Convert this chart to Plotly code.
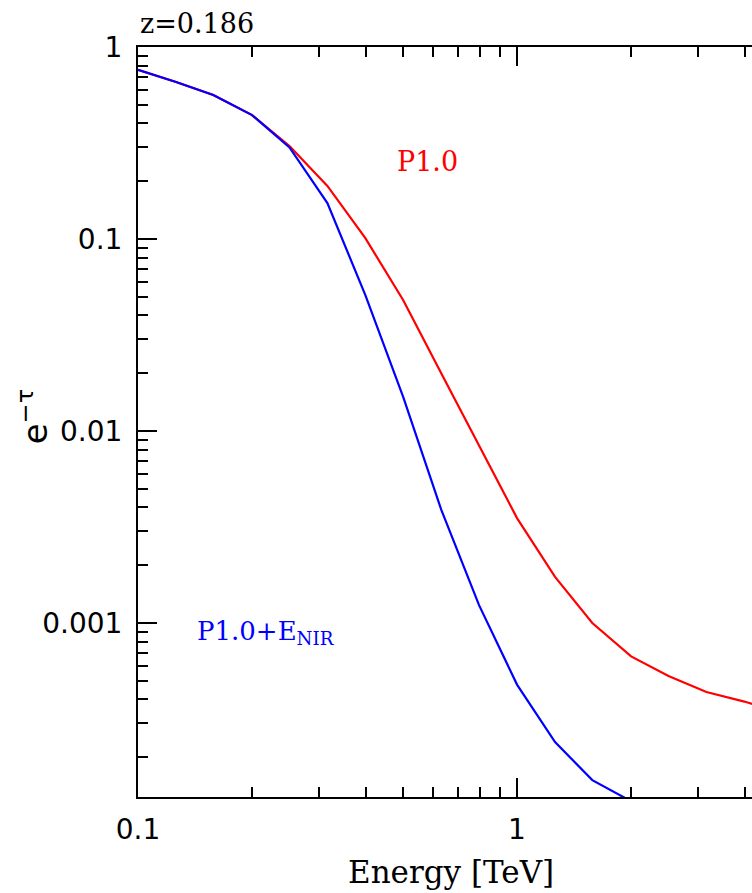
import numpy as np
import plotly.graph_objects as go

# Photon energies [TeV]
energy = [0.1, 0.126, 0.158, 0.2, 0.251, 0.316, 0.398, 0.501, 0.631, 0.794,
          1.0, 1.26, 1.58, 2.0, 2.51, 3.16, 3.98, 5.01]

# Attenuation factor exp(-tau), baseline EBL model
atten_p10 = [0.76, 0.657, 0.562, 0.442, 0.305, 0.189, 0.101, 0.048, 0.020, 0.0084,
             0.00352, 0.00174, 0.00100, 0.00067, 0.00053, 0.000437, 0.00039, 0.00034]

# Attenuation factor with additional NIR component
atten_p10_nir = [0.76, 0.657, 0.562, 0.442, 0.300, 0.154, 0.051, 0.0150, 0.0039, 0.00124,
                 0.000478, 0.00024, 0.000152, 0.000118, 0.00008, 0.00005, 0.00003, 0.00002]

x_major = [0.1, 1]
x_major_text = ["0.1", "1"]
y_major = [1, 0.1, 0.01, 0.001]
y_major_text = ["1", "0.1", "0.01", "0.001"]

x_range = [-1.0, 0.62]
y_range = [-3.906, 0.0]

minor_x = [m * 10.0 ** d for d in (-1, 0) for m in range(2, 10)]
minor_y = [m * 10.0 ** d for d in (-4, -3, -2, -1) for m in range(2, 10)]

tick_font = dict(family="DejaVu Sans", size=28, color="black")
serif = "DejaVu Serif"

fig = go.Figure()
fig.add_trace(go.Scatter(x=energy, y=atten_p10, mode="lines",
                         line=dict(color="#ff0000", width=2.2), showlegend=False))
fig.add_trace(go.Scatter(x=energy, y=atten_p10_nir, mode="lines",
                         line=dict(color="#0000ff", width=2.2), showlegend=False))

fig.update_layout(
    width=752, height=893,
    margin=dict(l=138, r=0, t=47, b=96),
    paper_bgcolor="white", plot_bgcolor="white",
    xaxis=dict(
        type="log", range=x_range,
        tickvals=x_major, ticktext=x_major_text,
        ticks="inside", ticklen=19, tickwidth=2, tickcolor="black",
        minor=dict(tickvals=minor_x, ticks="inside", ticklen=10,
                   tickwidth=2, tickcolor="black", showgrid=False),
        showline=True, linewidth=2, linecolor="black", mirror="ticks",
        showgrid=False, zeroline=False,
        tickfont=tick_font, ticklabelstandoff=6,
    ),
    yaxis=dict(
        type="log", range=y_range,
        tickvals=y_major, ticktext=y_major_text,
        ticks="inside", ticklen=19, tickwidth=2, tickcolor="black",
        minor=dict(tickvals=minor_y, ticks="inside", ticklen=10,
                   tickwidth=2, tickcolor="black", showgrid=False),
        showline=True, linewidth=2, linecolor="black",
        showgrid=False, zeroline=False,
        tickfont=tick_font, ticklabelstandoff=8,
    ),
    yaxis2=dict(
        type="log", range=y_range, overlaying="y", side="right",
        tickvals=y_major, ticks="inside", ticklen=7, tickwidth=2, tickcolor="black",
        showticklabels=False, showline=False, showgrid=False, zeroline=False,
    ),
)

# Axis titles as annotations for precise placement
fig.add_annotation(x=0.5098, y=0, xref="paper", yref="paper",
                   xanchor="center", yanchor="top", yshift=-55,
                   text="Energy [TeV]", showarrow=False,
                   font=dict(family=serif, size=31, color="black"))
fig.add_annotation(x=-0.172, y=0.507, xref="paper", yref="paper",
                   xanchor="center", yanchor="middle",
                   text="e<sup>−τ</sup>", textangle=-90, showarrow=False,
                   font=dict(family="DejaVu Sans", size=34, color="black"))
fig.add_annotation(x=0, y=1, xref="paper", yref="paper", xanchor="left", yanchor="bottom",
                   text="z=0.186", showarrow=False, yshift=6,
                   font=dict(family=serif, size=27, color="black"))
fig.add_annotation(x=np.log10(0.579), y=np.log10(0.252), xref="x", yref="y",
                   text="P1.0", showarrow=False,
                   font=dict(family=serif, size=27, color="#ff0000"))
fig.add_annotation(x=np.log10(0.1414), y=np.log10(8.97e-4), xref="x", yref="y",
                   xanchor="left", text="P1.0+E<sub>NIR</sub>", showarrow=False,
                   font=dict(family=serif, size=26, color="#0000ff"))

fig.write_html("out.html")
